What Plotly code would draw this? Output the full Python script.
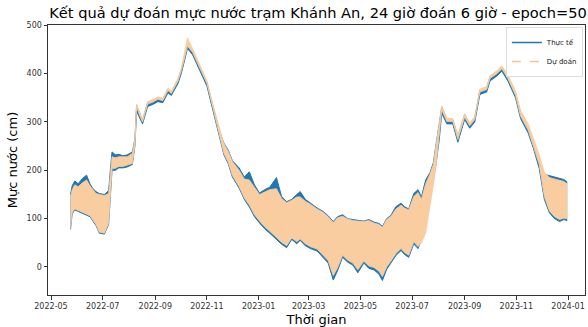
import plotly.graph_objects as go

# ---- data (envelopes of the hourly series) ----
dates = [
    "2022-05-24", "2022-05-26", "2022-05-29", "2022-06-02", "2022-06-07", "2022-06-12",
    "2022-06-16", "2022-06-19", "2022-06-23", "2022-06-27", "2022-07-03", "2022-07-08",
    "2022-07-10", "2022-07-12", "2022-07-16", "2022-07-20", "2022-07-25", "2022-07-30",
    "2022-08-05", "2022-08-08", "2022-08-10", "2022-08-14", "2022-08-17", "2022-08-23",
    "2022-08-29", "2022-09-04", "2022-09-10", "2022-09-16", "2022-09-20", "2022-09-28",
    "2022-10-02", "2022-10-06", "2022-10-09", "2022-10-15", "2022-10-23", "2022-11-01",
    "2022-11-08", "2022-11-16", "2022-11-21", "2022-11-26", "2022-12-01", "2022-12-09",
    "2022-12-15", "2022-12-21", "2022-12-27", "2023-01-02", "2023-01-08", "2023-01-14",
    "2023-01-22", "2023-01-28", "2023-02-03", "2023-02-09", "2023-02-15", "2023-02-19",
    "2023-02-25", "2023-03-03", "2023-03-11", "2023-03-18", "2023-03-24", "2023-03-30",
    "2023-04-04", "2023-04-10", "2023-04-16", "2023-04-22", "2023-04-28", "2023-05-05",
    "2023-05-11", "2023-05-17", "2023-05-23", "2023-05-27", "2023-06-01", "2023-06-06",
    "2023-06-12", "2023-06-18", "2023-06-22", "2023-06-27", "2023-07-03", "2023-07-08",
    "2023-07-12", "2023-07-17", "2023-07-22", "2023-07-26", "2023-07-29", "2023-08-02",
    "2023-08-05", "2023-08-11", "2023-08-18", "2023-08-24", "2023-09-01", "2023-09-07",
    "2023-09-13", "2023-09-19", "2023-09-27", "2023-10-01", "2023-10-09", "2023-10-15",
    "2023-10-22", "2023-10-31", "2023-11-06", "2023-11-15", "2023-11-21", "2023-11-28",
    "2023-12-04", "2023-12-10", "2023-12-16", "2023-12-22", "2023-12-27", "2023-12-31",
]

actual_high = [
    150, 168, 178, 172, 183, 190, 172, 163, 156, 152, 150, 158,
    200, 238, 232, 233, 230, 232, 238, 265, 335, 315, 303, 340,
    345, 350, 347, 368, 362, 388, 410, 438, 460, 447, 416, 382,
    333, 280, 256, 242, 220, 205, 186, 197, 170, 153, 160, 165,
    185, 146, 135, 140, 150, 156, 140, 132, 122, 115, 106, 94,
    104, 108, 100, 98, 97, 95, 98, 93, 90, 84, 100, 107,
    125, 132, 125, 120, 152, 160, 145, 180, 195, 215, 250, 292,
    331, 306, 305, 270, 315, 296, 309, 366, 371, 394, 404, 414,
    394, 360, 319, 290, 262, 224, 192, 189, 186, 184, 181, 176,
]
actual_low = [
    78, 110, 118, 115, 112, 108, 104, 96, 86, 70, 68, 88,
    150, 200, 200, 205, 205, 207, 212, 250, 322, 305, 296, 332,
    336, 342, 340, 360, 355, 380, 402, 430, 452, 439, 408, 374,
    324, 266, 232, 214, 186, 163, 140, 124, 104, 91, 79, 70,
    56, 47, 40, 57, 48, 55, 44, 38, 33, 20, 8, -27,
    -8, 20, 10, 4, -12, 8, -3, -6, -15, -28, -5, 8,
    24, 34, 26, 20, 48, 38, 55, 88, 140, 175, 210, 262,
    318, 296, 296, 258, 305, 287, 300, 357, 362, 385, 395, 405,
    385, 350, 307, 277, 246, 204, 140, 112, 100, 94, 98, 96,
]
predicted_high = [
    145, 160, 170, 166, 174, 180, 168, 160, 152, 150, 148, 152,
    190, 228, 226, 228, 228, 228, 235, 265, 337, 317, 305, 342,
    347, 352, 349, 370, 364, 391, 414, 445, 474, 452, 419, 385,
    336, 283, 255, 240, 218, 200, 182, 180, 166, 150, 155, 160,
    162, 142, 133, 138, 145, 145, 136, 130, 120, 113, 104, 92,
    102, 105, 99, 96, 95, 94, 96, 91, 88, 82, 98, 105,
    120, 128, 122, 118, 146, 154, 140, 172, 192, 212, 248, 295,
    333, 308, 307, 274, 317, 298, 311, 368, 373, 396, 406, 416,
    398, 364, 324, 296, 268, 232, 196, 185, 182, 180, 177, 172,
]
predicted_low = [
    80, 112, 120, 117, 114, 110, 106, 98, 88, 72, 70, 90,
    155, 203, 204, 208, 208, 210, 214, 252, 331, 312, 300, 337,
    341, 347, 344, 365, 359, 385, 407, 435, 457, 444, 413, 379,
    329, 270, 235, 217, 189, 166, 143, 128, 108, 95, 83, 74,
    60, 51, 44, 60, 52, 58, 48, 42, 37, 25, 13, -18,
    -2, 24, 14, 8, -6, 12, 2, -1, -9, -20, 0, 12,
    28, 38, 30, 24, 52, 42, 50, 70, 120, 168, 205, 268,
    325, 301, 301, 264, 310, 292, 305, 362, 367, 390, 400, 410,
    390, 355, 312, 283, 252, 212, 146, 116, 104, 98, 101, 100,
]

y_ticks = [0, 100, 200, 300, 400, 500]

BLUE = "#1f77b4"
PEACH = "rgb(250,205,160)"

fig = go.Figure()

# actual (Thực tế) envelope
fig.add_trace(go.Scatter(x=dates, y=actual_low, mode="lines",
                         line=dict(color=BLUE, width=1), showlegend=False,
                         hoverinfo="skip"))
fig.add_trace(go.Scatter(x=dates, y=actual_high, mode="lines",
                         line=dict(color=BLUE, width=1), fill="tonexty",
                         fillcolor=BLUE, showlegend=False, hoverinfo="skip"))
# predicted (Dự đoán) envelope drawn on top
fig.add_trace(go.Scatter(x=dates, y=predicted_low, mode="lines",
                         line=dict(color=PEACH, width=0.8), showlegend=False,
                         hoverinfo="skip"))
fig.add_trace(go.Scatter(x=dates, y=predicted_high, mode="lines",
                         line=dict(color=PEACH, width=0.8), fill="tonexty",
                         fillcolor=PEACH, showlegend=False, hoverinfo="skip"))

# legend entries
fig.add_trace(go.Scatter(x=[None], y=[None], mode="lines", name="Thực tế",
                         line=dict(color=BLUE, width=1.5)))
fig.add_trace(go.Scatter(x=[None], y=[None], mode="lines", name="Dự đoán",
                         line=dict(color="rgb(250,195,140)", width=1.5, dash="dash")))

axis_common = dict(
    showline=True, mirror=True, linecolor="#333", linewidth=1,
    ticks="outside", ticklen=3.5, tickwidth=1, tickcolor="#333",
    showgrid=False, zeroline=False,
    tickfont=dict(family="DejaVu Sans", size=8, color="#333"),
)

fig.update_layout(
    width=588, height=327,
    margin=dict(l=48, r=3, t=25, b=32),
    paper_bgcolor="white", plot_bgcolor="white",
    font=dict(family="DejaVu Sans", color="black"),
    title=dict(text="Kết quả dự đoán mực nước trạm Khánh An, 24 giờ đoán 6 giờ - epoch=50",
               font=dict(family="DejaVu Sans", size=14.6, color="black"),
               x=318 / 588, xanchor="center", xref="container",
               y=1 - 12.5 / 327, yanchor="middle", yref="container"),
    xaxis=dict(**axis_common, type="date",
               range=["2022-04-27 11:00", "2024-01-21"],
               tick0="2022-05-01", dtick="M2", tickformat="%Y-%m",
               title=dict(text="Thời gian", standoff=4,
                          font=dict(family="DejaVu Sans", size=13, color="black"))),
    yaxis=dict(**axis_common, range=[-58, 500.6], tickvals=y_ticks,
               title=dict(text="Mực nước (cm)", standoff=6,
                          font=dict(family="DejaVu Sans", size=13, color="black"))),
    legend=dict(x=0.996, y=0.993, xanchor="right", yanchor="top",
                traceorder="normal",
                bgcolor="rgba(255,255,255,0.8)", bordercolor="#ddd", borderwidth=1,
                font=dict(family="DejaVu Sans", size=7, color="#222"),
                itemwidth=30, tracegroupgap=0),
    showlegend=True,
)

fig.write_html("out.html")
